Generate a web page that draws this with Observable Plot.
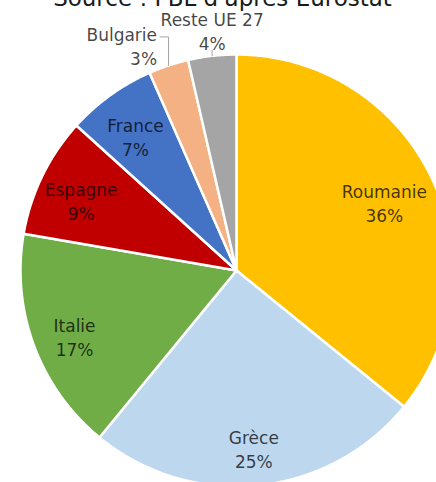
<!DOCTYPE html>
<html>
<head>
<meta charset="utf-8">
<script src="https://cdn.jsdelivr.net/npm/d3@7"></script>
<script src="https://cdn.jsdelivr.net/npm/@observablehq/plot@0.6"></script>
<style>
  html, body { margin: 0; padding: 0; background: #fff; }
  #chart { width: 436px; height: 482px; overflow: hidden; }
</style>
</head>
<body>
<div id="chart"></div>
<script>
// ---- data ----
const categories = ["Roumanie", "Grèce", "Italie", "Espagne", "France", "Bulgarie", "Reste UE 27"];
const values = [35.9, 25.1, 16.8, 9.0, 6.7, 3.0, 3.6];
const colors = ["#FFC000", "#BDD7EE", "#70AD47", "#C00000", "#4472C4", "#F4B183", "#A5A5A5"];
const titleText = "Source : FBL d'après Eurostat";

// ---- layout ----
const W = 436, H = 482;
const cx = 236, cy = 270, R = 216;
const fontSize = 17, lineH = 24;
const total = d3.sum(values);

const pie = d3.pie().sort(null).value(d => d.value)(categories.map((c, i) => ({c, value: values[i]})));
const pt = (a, r) => ({x: cx + r * Math.sin(a), y: cy - r * Math.cos(a)});
const approxHalfWidth = s => s.length * fontSize * 0.31;

const polys = [];
const labels = [];
const leaders = [];
pie.forEach((s, i) => {
  const n = Math.max(2, Math.ceil((s.endAngle - s.startAngle) / (Math.PI / 360)));
  polys.push({c: s.data.c, x: cx, y: cy});
  for (let k = 0; k <= n; k++) {
    const a = s.startAngle + (s.endAngle - s.startAngle) * k / n;
    polys.push({c: s.data.c, ...pt(a, R)});
  }
  const mid = (s.startAngle + s.endAngle) / 2;
  const pct = Math.round(s.data.value / total * 100) + "%";
  const frac = s.data.value / total;
  const text = s.data.c + "\n" + pct;
  if (frac >= 0.05) {
    const p = pt(mid, R * 0.8);
    const hw = approxHalfWidth(s.data.c);
    const x = Math.min(p.x, W - hw - 10); // keep label inside the visible frame
    labels.push({x, y: p.y + 6, text, anchor: "middle"});
  } else {
    const p = pt(mid, R * 1.11);
    const sideways = Math.abs(Math.sin(mid)) > 0.15;
    const anchor = sideways ? (Math.sin(mid) < 0 ? "end" : "start") : "middle";
    const e = pt(mid, R);
    if (anchor === "middle") {
      labels.push({x: e.x, y: p.y - 2, text, anchor});
      leaders.push({g: i, x: e.x, y: e.y}, {g: i, x: e.x, y: p.y - 2 + lineH / 2 + 8});
    } else {
      const lx = anchor === "end" ? p.x - 4 : p.x + 4;
      labels.push({x: lx, y: p.y + 2, text, anchor});
      const ly = p.y + 2 - lineH / 2 + 4;
      leaders.push({g: i, x: e.x, y: e.y}, {g: i, x: e.x, y: ly}, {g: i, x: anchor === "end" ? lx + 3 : lx - 3, y: ly});
    }
  }
});

const textOpts = {x: "x", y: "y", text: "text", fontSize, lineHeight: lineH / fontSize, fill: "#000", fillOpacity: 0.74};

const chart = Plot.plot({
  width: W,
  height: H,
  margin: 0,
  x: {domain: [0, W], range: [0, W], axis: null},
  y: {domain: [0, H], range: [0, H], axis: null},
  color: {domain: categories, range: colors},
  style: {fontFamily: "DejaVu Sans, sans-serif", background: "#fff"},
  marks: [
    Plot.line(polys, {x: "x", y: "y", z: "c", fill: "c", stroke: "white", strokeWidth: 2.5, strokeLinejoin: "round", curve: "linear-closed"}),
    Plot.line(leaders, {x: "x", y: "y", z: "g", stroke: "#A6A6A6", strokeWidth: 1}),
    Plot.text(labels.filter(d => d.anchor === "middle"), {...textOpts, textAnchor: "middle"}),
    Plot.text(labels.filter(d => d.anchor === "end"), {...textOpts, textAnchor: "end"}),
    Plot.text(labels.filter(d => d.anchor === "start"), {...textOpts, textAnchor: "start"}),
    Plot.text([titleText], {x: [222], y: [5.5], fontSize: 23, lineAnchor: "bottom", fill: "#1a1a1a"})
  ]
});
document.getElementById("chart").appendChild(chart);
</script>
</body>
</html>
